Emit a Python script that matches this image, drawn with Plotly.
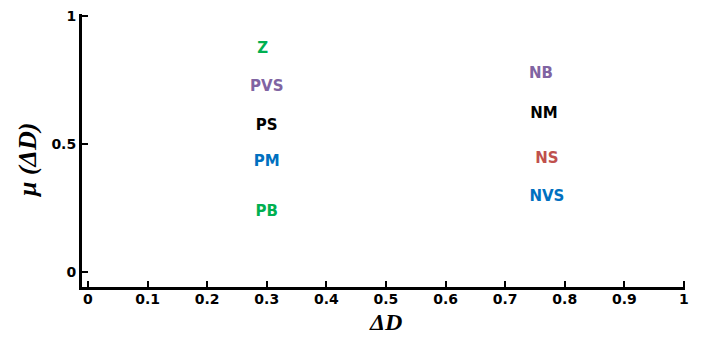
import plotly.graph_objects as go

labels = ["Z", "PVS", "PS", "PM", "PB", "NB", "NM", "NS", "NVS"]
x_vals = [0.293, 0.30, 0.30, 0.30, 0.30, 0.76, 0.765, 0.77, 0.77]
y_vals = [0.872, 0.721, 0.570, 0.430, 0.233, 0.771, 0.616, 0.442, 0.291]
colors = ["#00b050", "#8064a2", "#000000", "#0070c0", "#00b050",
          "#8064a2", "#000000", "#c0504d", "#0070c0"]

x_ticks = [0, 0.1, 0.2, 0.3, 0.4, 0.5, 0.6, 0.7, 0.8, 0.9, 1]
x_tick_text = ["0", "0.1", "0.2", "0.3", "0.4", "0.5", "0.6", "0.7", "0.8", "0.9", "1"]
y_ticks = [0, 0.5, 1]
y_tick_text = ["0", "0.5", "1"]

x_title = "ΔD"
y_title = "μ (ΔD)"

fig = go.Figure()
fig.add_trace(go.Scatter(
    x=x_vals, y=y_vals, mode="text",
    text=["<b>" + t + "</b>" for t in labels],
    textfont=dict(family="DejaVu Sans, Verdana, sans-serif", size=15, color=colors),
    textposition="middle center",
    hoverinfo="skip", showlegend=False,
))

axis_font = dict(family="DejaVu Sans, Verdana, sans-serif", size=14, color="#000")
fig.update_layout(
    width=694, height=329,
    margin=dict(l=74, r=17, t=6, b=50),
    paper_bgcolor="white", plot_bgcolor="white",
    xaxis=dict(
        range=[-0.01, 1.0017], tickvals=x_ticks, ticktext=["<b>" + t + "</b>" for t in x_tick_text],
        showline=True, linecolor="black", linewidth=3,
        ticks="inside", ticklen=6, tickwidth=2, tickcolor="black",
        showgrid=False, zeroline=False, tickfont=axis_font, automargin=False,
        ticklabeloverflow="allow", ticklabelstandoff=-3,
    ),
    yaxis=dict(
        range=[-0.058, 1.008], tickvals=y_ticks, ticktext=["<b>" + t + "</b>" for t in y_tick_text],
        showline=True, linecolor="black", linewidth=3,
        ticks="inside", ticklen=6, tickwidth=2, tickcolor="black",
        showgrid=False, zeroline=False, tickfont=axis_font, automargin=False,
        ticklabeloverflow="allow",
    ),
    annotations=[
        dict(text="<b><i>" + x_title + "</i></b>", xref="paper", yref="paper",
             x=0.5025, y=-0.128, xanchor="center", yanchor="middle", showarrow=False,
             font=dict(family="Liberation Serif, Times New Roman, serif", size=24, color="#000")),
        dict(text="<b><i>" + y_title + "</i></b>", xref="paper", yref="paper",
             x=-0.0912, y=0.4615, xanchor="center", yanchor="middle", showarrow=False,
             textangle=-90,
             font=dict(family="Liberation Serif, Times New Roman, serif", size=26, color="#000")),
    ],
)

fig.write_html("out.html")
